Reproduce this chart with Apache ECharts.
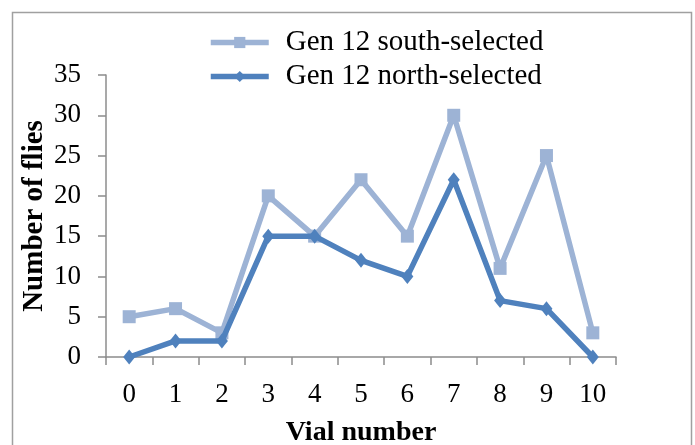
<!DOCTYPE html>
<html>
<head>
<meta charset="utf-8">
<script src="https://cdn.jsdelivr.net/npm/echarts@6/dist/echarts.min.js"></script>
<style>
  html, body { margin: 0; padding: 0; background: #fff; }
  #chart { width: 695px; height: 445px; }
</style>
</head>
<body>
<div id="chart"></div>
<script>
// Fly counts per vial for the two generation-12 selection lines
const vials = ['0', '1', '2', '3', '4', '5', '6', '7', '8', '9', '10'];
const southSelected = [5, 6, 3, 20, 15, 22, 15, 30, 11, 25, 3];
const northSelected = [0, 2, 2, 15, 15, 12, 10, 22, 7, 6, 0];
const yTicks = [0, 5, 10, 15, 20, 25, 30, 35];

const serif = '"Liberation Serif", "DejaVu Serif", serif';
const axisGray = '#8c8c8c';
const southColor = '#9db3d5';
const northColor = '#4f81bd';

const chart = echarts.init(document.getElementById('chart'), null, { renderer: 'canvas' });

chart.setOption({
  backgroundColor: '#ffffff',
  animation: false,
  graphic: [{
    type: 'rect',
    shape: { x: 12.5, y: 12.5, width: 679, height: 450 },
    style: { fill: 'none', stroke: '#a0a0a0', lineWidth: 1.5 },
    silent: true
  }],
  legend: {
    orient: 'vertical',
    left: 203,
    top: 23,
    itemWidth: 58,
    itemHeight: 14,
    itemGap: 5,
    textStyle: { fontFamily: serif, fontSize: 29, color: '#000', padding: [0, 0, 0, 12] },
    data: [
      { name: 'Gen 12 south-selected', lineStyle: { width: 5.5, color: southColor } },
      { name: 'Gen 12 north-selected', lineStyle: { width: 5.5, color: northColor } }
    ]
  },
  grid: { left: 106, right: 79, top: 75, bottom: 88, outerBoundsMode: 'none', containLabel: false },
  xAxis: {
    type: 'category',
    data: vials,
    boundaryGap: true,
    name: 'Vial number',
    nameLocation: 'middle',
    nameGap: 62,
    nameMoveOverlap: false,
    nameTextStyle: { fontFamily: serif, fontWeight: 'bold', fontSize: 28, color: '#000' },
    axisLine: { lineStyle: { color: axisGray, width: 1.5 } },
    axisTick: { show: true, length: 8, alignWithLabel: false, lineStyle: { color: axisGray, width: 1.5 } },
    axisLabel: { fontFamily: serif, fontSize: 27, color: '#000', margin: 24 },
    splitLine: { show: false }
  },
  yAxis: {
    type: 'value',
    min: yTicks[0],
    max: yTicks[yTicks.length - 1],
    interval: 5,
    name: 'Number of flies',
    nameLocation: 'middle',
    nameGap: 57,
    nameMoveOverlap: false,
    nameRotate: 90,
    nameTextStyle: { fontFamily: serif, fontWeight: 'bold', fontSize: 29, color: '#000' },
    axisLine: { show: true, lineStyle: { color: axisGray, width: 1.5 } },
    axisTick: { show: true, length: 8, lineStyle: { color: axisGray, width: 1.5 } },
    axisLabel: { fontFamily: serif, fontSize: 27, color: '#000', margin: 25 },
    splitLine: { show: false }
  },
  series: [
    {
      name: 'Gen 12 south-selected',
      type: 'line',
      data: southSelected,
      symbol: 'rect',
      symbolSize: 13,
      lineStyle: { color: southColor, width: 5.5 },
      itemStyle: { color: southColor },
      z: 2
    },
    {
      name: 'Gen 12 north-selected',
      type: 'line',
      data: northSelected,
      symbol: 'diamond',
      symbolSize: [12, 15],
      lineStyle: { color: northColor, width: 5.5 },
      itemStyle: { color: northColor },
      z: 3
    }
  ]
});
</script>
</body>
</html>
